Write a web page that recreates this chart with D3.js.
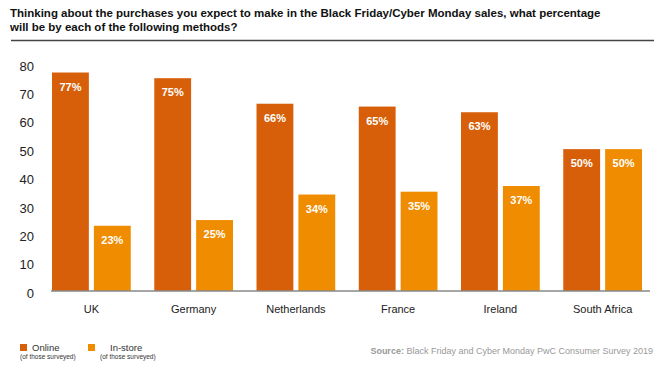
<!DOCTYPE html>
<html>
<head>
<meta charset="utf-8">
<script src="https://cdn.jsdelivr.net/npm/d3@7"></script>
<style>
  body { margin: 0; background: #fff; }
  svg { font-family: "Liberation Sans", Arial, sans-serif; }
</style>
</head>
<body>
<svg width="670" height="377"></svg>
<script>
// chart data
const countries = ["UK", "Germany", "Netherlands", "France", "Ireland", "South Africa"];
const online = [77, 75, 66, 65, 63, 50];
const inStore = [23, 25, 34, 35, 37, 50];
const seriesNames = ["Online", "In-store"];
const seriesColors = ["#d85f0a", "#f08c00"];
const yTicks = [0, 10, 20, 30, 40, 50, 60, 70, 80];

const titleLines = [
  "Thinking about the purchases you expect to make in the Black Friday/Cyber Monday sales, what percentage",
  "will be by each of the following methods?",
];

const svg = d3.select("svg");

const rows = countries.map((c, i) => ({ country: c, values: [online[i], inStore[i]] }));

const xScale = d3.scaleBand().domain(countries).range([52, 642]).paddingInner(0.23).paddingOuter(0);
const xInner = d3.scaleBand().domain([0, 1]).range([0, xScale.bandwidth()]).paddingInner(0.12);
const yScale = d3.scaleLinear().domain([0, 80]).range([291, 64]);

// title
svg.append("g")
  .selectAll("text")
  .data(titleLines)
  .enter()
  .append("text")
  .attr("x", 10)
  .attr("y", (d, i) => 17 + i * 14)
  .attr("font-size", 11.5)
  .attr("font-weight", "bold")
  .attr("fill", "#111")
  .text((d) => d);

svg.append("line")
  .attr("x1", 11).attr("x2", 654)
  .attr("y1", 40.5).attr("y2", 40.5)
  .attr("stroke", "#444")
  .attr("stroke-width", 1.5);

// y axis labels (no axis line)
const yAxis = svg.append("g")
  .attr("transform", "translate(34,2)")
  .call(d3.axisLeft(yScale).tickValues(yTicks).tickSize(0).tickPadding(0));
yAxis.select(".domain").remove();
yAxis.selectAll("text")
  .attr("font-size", 13)
  .attr("fill", "#222")
  .attr("font-family", "Liberation Sans, Arial, sans-serif");

// bars
const groups = svg.append("g")
  .selectAll("g")
  .data(rows)
  .enter()
  .append("g")
  .attr("transform", (d) => `translate(${xScale(d.country)},0)`);

groups.selectAll("rect")
  .data((d) => d.values)
  .enter()
  .append("rect")
  .attr("x", (d, i) => xInner(i))
  .attr("y", (d) => yScale(d))
  .attr("width", xInner.bandwidth())
  .attr("height", (d) => yScale(0) - yScale(d))
  .attr("fill", (d, i) => seriesColors[i]);

groups.selectAll("text")
  .data((d) => d.values)
  .enter()
  .append("text")
  .attr("x", (d, i) => xInner(i) + xInner.bandwidth() / 2)
  .attr("y", (d) => yScale(d) + 18)
  .attr("text-anchor", "middle")
  .attr("font-size", 11)
  .attr("font-weight", "bold")
  .attr("fill", "#fff")
  .text((d) => d + "%");

// x axis
const xAxis = svg.append("g")
  .attr("transform", `translate(0,${yScale(0)})`)
  .call(d3.axisBottom(xScale).tickSize(0).tickPadding(14));
xAxis.select(".domain")
  .attr("d", "M51,0H650")
  .attr("stroke", "#888")
  .attr("stroke-width", 1.5);
xAxis.selectAll("text")
  .attr("font-size", 11)
  .attr("fill", "#222")
  .attr("font-family", "Liberation Sans, Arial, sans-serif");

// legend
const legend = svg.append("g")
  .selectAll("g")
  .data(seriesNames)
  .enter()
  .append("g")
  .attr("transform", (d, i) => `translate(${20 + i * 68},0)`);

legend.append("rect")
  .attr("x", 0).attr("y", 344)
  .attr("width", 7).attr("height", 7)
  .attr("fill", (d, i) => seriesColors[i]);

legend.append("text")
  .attr("x", (d, i) => (i === 0 ? 12 : 22))
  .attr("y", 351)
  .attr("font-size", 9.5)
  .attr("fill", "#333")
  .text((d) => d);

legend.append("text")
  .attr("x", (d, i) => (i === 0 ? 0 : 12))
  .attr("y", 359)
  .attr("font-size", 6.5)
  .attr("fill", "#333")
  .text("(of those surveyed)");

// source
const source = svg.append("text")
  .attr("x", 653)
  .attr("y", 354)
  .attr("text-anchor", "end")
  .attr("font-size", 9)
  .attr("fill", "#999");
source.append("tspan").attr("font-weight", "bold").text("Source: ");
source.append("tspan").text("Black Friday and Cyber Monday PwC Consumer Survey 2019");
</script>
</body>
</html>
